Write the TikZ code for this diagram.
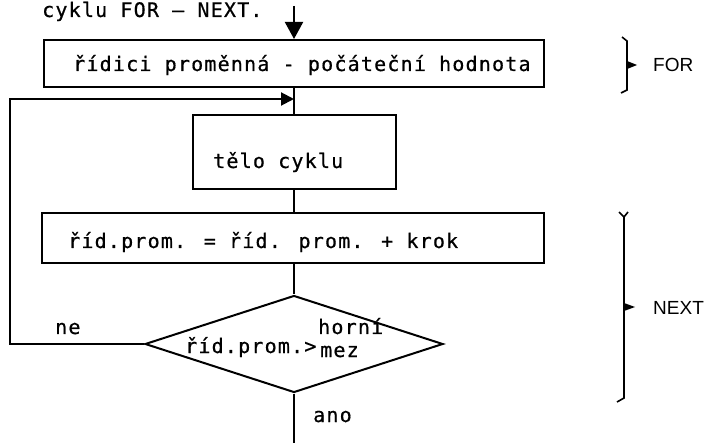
\documentclass[tikz,border=0pt]{standalone}
\usepackage{fontspec}
\newfontfamily\flowfont[LetterSpace=6,FakeBold=0.6]{DejaVu Sans Mono}
\newfontfamily\tagfont{Liberation Sans}
\usetikzlibrary{arrows.meta,shapes.geometric}

\tikzset{
  flowbox/.style={draw, rectangle, line width=2pt, inner sep=0pt},
  decision/.style={draw, diamond, line width=2pt, inner sep=0pt},
  flowline/.style={line width=2pt},
  brace/.style={line width=1.6pt},
  txt/.style={font=\flowfont\fontsize{20}{24}\selectfont, inner sep=0pt, anchor=base west},
  tag/.style={font=\tagfont\fontsize{19}{22}\selectfont, inner sep=0pt, anchor=base west},
}

\begin{document}
\begin{tikzpicture}[x=1pt,y=-1pt]
  \useasboundingbox[fill=white] (0,0) rectangle (706,443);

  % heading
  \node[txt] (title) at (42,17) {cyklu FOR – NEXT.};

  % boxes
  \node[flowbox, minimum width=500pt, minimum height=47pt] (b1) at (294,63.5) {};
  \node[flowbox, minimum width=203pt, minimum height=74pt] (b2) at (294,152) {};
  \node[flowbox, minimum width=502pt, minimum height=50pt] (b3) at (293,238) {};
  \node[decision, minimum width=298pt, minimum height=97pt] (dia) at (294,344) {};

  % texts
  \node[txt] (t1) at (73,71) {řídici proměnná - počáteční hodnota};
  \node[txt] (t2) at (213,168) {tělo cyklu};
  \node[txt] (t3) at (68,248) {říd.prom. = říd. prom. + krok};
  \node[txt] (t4) at (185,353) {říd.prom.>};
  \node[txt] (t5) at (318,334) {horní};
  \node[txt] (t6) at (320,357) {mez};
  \node[txt] (ne) at (55,334) {ne};
  \node[txt] (ano) at (313,422) {ano};

  % connectors
  \coordinate (start) at (294,6);
  \coordinate (merge) at (294,99);
  \coordinate (loopx) at (10,0);
  \coordinate (out) at (294,443);

  \draw[flowline, -{Triangle[length=17pt,width=18pt]}] (start) -- (b1.north);
  \draw[flowline] (b1.south) -- (b2.north);
  \draw[flowline] (b2.south) -- (b2.south |- b3.north);
  \draw[flowline] (dia.north |- b3.south) -- (dia.north);
  \draw[flowline] (dia.south) -- (out);
  \draw[flowline, -{Triangle[length=13pt,width=13pt]}]
    (dia.west) -- (dia.west -| loopx) |- (merge);

  % FOR brace
  \draw[brace] (622,37) -- (627,41) -- (627,90) -- (621,93);
  \fill (627,61) -- (637,65) -- (627,69) -- cycle;
  \node[tag] (for) at (653,72) {FOR};

  % NEXT brace
  \draw[brace] (619,212) -- (624,217) -- (628,212);
  \draw[brace] (624,216) -- (624,398) -- (617,402);
  \fill (624,303) -- (635,307) -- (624,311) -- cycle;
  \node[tag] (next) at (653,314) {NEXT};
\end{tikzpicture}
\end{document}
